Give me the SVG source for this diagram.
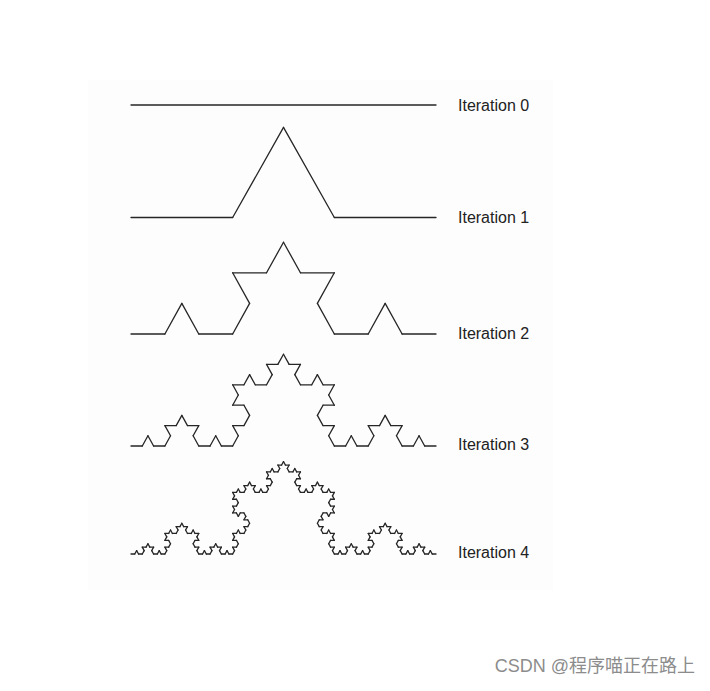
<svg xmlns="http://www.w3.org/2000/svg" width="710" height="691" viewBox="0 0 710 691">
<style>
.seg{stroke:#262626;stroke-width:1.3;fill:none;stroke-linecap:round;vector-effect:non-scaling-stroke}
.lbl{font-family:"Liberation Sans",Arial,sans-serif;font-size:16px;fill:#222}
.wm{font-family:"Liberation Sans","Noto Sans CJK SC",sans-serif;font-size:18px;fill:#8c8c8c}
</style>
<defs>
<path id="k0" class="seg" d="M0 0H1"/>
<g id="k1">
<use href="#k0" transform="scale(0.3333333)"/>
<use href="#k0" transform="translate(0.3333333 0) rotate(-60) scale(0.3333333)"/>
<use href="#k0" transform="translate(0.5 -0.2886751) rotate(60) scale(0.3333333)"/>
<use href="#k0" transform="translate(0.6666667 0) scale(0.3333333)"/>
</g>
<g id="k2">
<use href="#k1" transform="scale(0.3333333)"/>
<use href="#k1" transform="translate(0.3333333 0) rotate(-60) scale(0.3333333)"/>
<use href="#k1" transform="translate(0.5 -0.2886751) rotate(60) scale(0.3333333)"/>
<use href="#k1" transform="translate(0.6666667 0) scale(0.3333333)"/>
</g>
<g id="k3">
<use href="#k2" transform="scale(0.3333333)"/>
<use href="#k2" transform="translate(0.3333333 0) rotate(-60) scale(0.3333333)"/>
<use href="#k2" transform="translate(0.5 -0.2886751) rotate(60) scale(0.3333333)"/>
<use href="#k2" transform="translate(0.6666667 0) scale(0.3333333)"/>
</g>
<g id="k4">
<use href="#k3" transform="scale(0.3333333)"/>
<use href="#k3" transform="translate(0.3333333 0) rotate(-60) scale(0.3333333)"/>
<use href="#k3" transform="translate(0.5 -0.2886751) rotate(60) scale(0.3333333)"/>
<use href="#k3" transform="translate(0.6666667 0) scale(0.3333333)"/>
</g>
</defs>
<rect width="710" height="691" fill="#fff"/>
<rect x="88" y="80" width="465" height="510" fill="#fdfdfd"/>
<g id="iter0">
<path class="seg" d="M131 105H436"/>
<text class="lbl" x="458" y="110.5">Iteration 0</text>
</g>
<g id="iter1">
<use href="#k1" transform="translate(131 217.5) scale(305 312)"/>
<text class="lbl" x="458" y="222.5">Iteration 1</text>
</g>
<g id="iter2">
<use href="#k2" transform="translate(131 334) scale(305 318)"/>
<text class="lbl" x="458" y="338.5">Iteration 2</text>
</g>
<g id="iter3">
<use href="#k3" transform="translate(131 446) scale(305 318)"/>
<text class="lbl" x="458" y="449.5">Iteration 3</text>
</g>
<g id="iter4">
<use href="#k4" transform="translate(131 554) scale(305 320)"/>
<text class="lbl" x="458" y="557.5">Iteration 4</text>
</g>
<text class="wm" x="695" y="672" text-anchor="end">CSDN @程序喵正在路上</text>
</svg>
